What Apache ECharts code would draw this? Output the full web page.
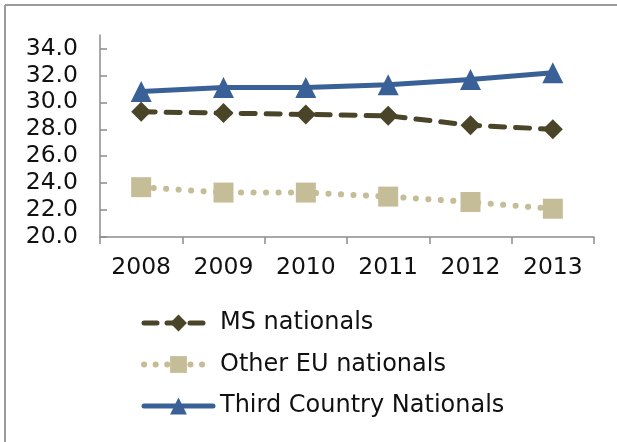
<!DOCTYPE html>
<html>
<head>
<meta charset="utf-8">
<script src="https://cdn.jsdelivr.net/npm/echarts@6/dist/echarts.min.js"></script>
<style>html,body{margin:0;padding:0;background:#fff;}#c{width:617px;height:442px;}</style>
</head>
<body>
<div id="c"></div>
<script>
var years = ['2008', '2009', '2010', '2011', '2012', '2013'];
var msNationals = [29.3, 29.2, 29.1, 29.0, 28.3, 28.0];
var otherEU = [23.7, 23.3, 23.3, 23.0, 22.6, 22.1];
var thirdCountry = [30.8, 31.1, 31.1, 31.3, 31.7, 32.2];
var yTicks = [20, 22, 24, 26, 28, 30, 32, 34];

var font = 'DejaVu Sans';
var cMS = '#4a4429', cEU = '#c4bd97', cTC = '#3a6197';
var lsMS = { color: cMS, width: 5, type: [14, 11], cap: 'round' };
var lsEU = { color: cEU, width: 6, type: [0.1, 12.4], cap: 'round' };
var lsTC = { color: cTC, width: 5, type: 'solid', cap: 'round' };

var chart = echarts.init(document.getElementById('c'));
chart.setOption({
  animation: false,
  backgroundColor: '#fff',
  grid: { left: 100, right: 23, top: 35, bottom: 205, containLabel: false },
  xAxis: {
    type: 'category',
    data: years,
    boundaryGap: true,
    axisLine: { lineStyle: { color: '#8c8c8c', width: 1.5 } },
    axisTick: { show: true, length: 7, inside: false, lineStyle: { color: '#8c8c8c', width: 1.5 } },
    axisLabel: { color: '#111', fontFamily: font, fontSize: 23.5, margin: 19 },
    splitLine: { show: false }
  },
  yAxis: {
    type: 'value',
    min: 20, max: 35, interval: 2,
    axisLine: { show: true, lineStyle: { color: '#8c8c8c', width: 1.5 } },
    axisTick: { show: true, inside: true, length: 7, customValues: yTicks, lineStyle: { color: '#8c8c8c', width: 1.5 } },
    axisLabel: { color: '#111', fontFamily: font, fontSize: 23.5, margin: 22, customValues: yTicks,
      formatter: function (v) { return v.toFixed(1); } },
    splitLine: { show: false }
  },
  legend: {
    orient: 'vertical',
    left: 141, top: 310, padding: 0,
    itemWidth: 69, itemHeight: 21, itemGap: 15.5,
    textStyle: { color: '#111', fontFamily: font, fontSize: 24, lineHeight: 26, padding: [0, 0, 0, 2] },
    data: [
      { name: 'MS nationals', lineStyle: { width: 5, type: [13, 10], cap: 'round' } },
      { name: 'Other EU nationals', lineStyle: { width: 6, type: [0.1, 11.5], cap: 'round' } },
      { name: 'Third Country Nationals', lineStyle: { width: 5, type: 'solid', cap: 'round' } }
    ]
  },
  series: [
    {
      name: 'MS nationals', type: 'line', data: msNationals,
      symbol: 'diamond', symbolSize: 20,
      itemStyle: { color: cMS },
      lineStyle: lsMS
    },
    {
      name: 'Other EU nationals', type: 'line', data: otherEU,
      symbol: 'rect', symbolSize: 20,
      itemStyle: { color: cEU },
      lineStyle: lsEU
    },
    {
      name: 'Third Country Nationals', type: 'line', data: thirdCountry,
      symbol: 'triangle', symbolSize: [21, 21],
      itemStyle: { color: cTC },
      lineStyle: lsTC
    }
  ],
  graphic: [
    { type: 'line', shape: { x1: 5, y1: 5, x2: 617, y2: 5 }, style: { stroke: '#9a9a9a', lineWidth: 2 } },
    { type: 'line', shape: { x1: 5, y1: 5, x2: 5, y2: 442 }, style: { stroke: '#9a9a9a', lineWidth: 2 } }
  ]
});
</script>
</body>
</html>
